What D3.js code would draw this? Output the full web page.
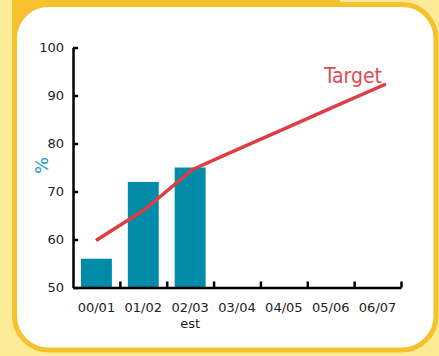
<!DOCTYPE html>
<html>
<head>
<meta charset="utf-8">
<script src="https://cdn.jsdelivr.net/npm/d3@7"></script>
<style>
  body { margin: 0; background: #fdeb98; }
  svg { display: block; }
</style>
</head>
<body>
<div id="chart-container"></div>
<script>
// Data
const categories = ["00/01", "01/02", "02/03", "03/04", "04/05", "05/06", "06/07"];
const actual = [56, 72, 75];            // bars (02/03 is an estimate)
const target = [59.8, 66.2, 74.6, 79.1, 83.5, 88, 92.4];
const yTicks = [50, 60, 70, 80, 90, 100];

const W = 439, H = 356;
const svg = d3.select("#chart-container")
  .append("svg")
  .attr("width", W)
  .attr("height", H);

// Background frame
svg.append("rect").attr("width", W).attr("height", H).attr("fill", "#fdeb98");
svg.append("rect")
  .attr("x", 12).attr("y", 0)
  .attr("width", 328).attr("height", 50)
  .attr("fill", "#f6c12d");
svg.append("rect")
  .attr("x", 14.5).attr("y", 4.5)
  .attr("width", 421.5).attr("height", 345.5)
  .attr("rx", 34)
  .attr("fill", "white")
  .attr("stroke", "#f6c12d")
  .attr("stroke-width", 5);

// Scales
const x = d3.scaleBand()
  .domain(categories)
  .range([73, 401])
  .paddingInner(0.34)
  .paddingOuter(0.17);

const xEdge = d3.scaleLinear()
  .domain([0, categories.length])
  .range([73, 401]);

const xLine = d3.scalePoint()
  .domain(categories)
  .range([96, 386]);

const y = d3.scaleLinear()
  .domain([50, 100])
  .range([287.5, 47.5]);

// Bars
svg.selectAll(".bar")
  .data(actual)
  .join("rect")
  .attr("class", "bar")
  .attr("x", (d, i) => x(categories[i]))
  .attr("y", d => y(d))
  .attr("width", x.bandwidth())
  .attr("height", d => y(50) - y(d))
  .attr("fill", "#008ca8");

// y axis
svg.append("g")
  .attr("transform", "translate(73,0)")
  .call(d3.axisLeft(y)
    .tickValues(yTicks)
    .tickSizeInner(-5)
    .tickSizeOuter(0)
    .tickPadding(9))
  .call(g => g.selectAll("path, line").attr("stroke", "#000").attr("stroke-width", 2.5))
  .selectAll("text")
  .style("font-family", "DejaVu Sans, sans-serif")
  .style("font-size", "13px")
  .attr("fill", "#222");

// x axis line + ticks at category boundaries
svg.append("g")
  .attr("transform", "translate(0,287.5)")
  .call(d3.axisBottom(xEdge)
    .tickValues(d3.range(1, categories.length + 1))
    .tickSizeInner(-6)
    .tickSizeOuter(0)
    .tickFormat(""))
  .call(g => g.selectAll("path, line").attr("stroke", "#000").attr("stroke-width", 2.5));

// x labels at band centres
svg.append("g")
  .attr("transform", "translate(0,287.5)")
  .call(d3.axisBottom(x).tickSize(0).tickPadding(15.5))
  .call(g => g.select(".domain").remove())
  .selectAll("text")
  .style("font-family", "DejaVu Sans, sans-serif")
  .style("font-size", "13px")
  .attr("fill", "#222");

svg.append("text")
  .attr("x", x("02/03") + x.bandwidth() / 2)
  .attr("y", 327.5)
  .attr("text-anchor", "middle")
  .style("font-family", "DejaVu Sans, sans-serif")
  .style("font-size", "13px")
  .attr("fill", "#222")
  .text("est");

// y axis label
svg.append("text")
  .attr("transform", "translate(48,165.5) rotate(-90)")
  .attr("text-anchor", "middle")
  .style("font-family", "DejaVu Sans, sans-serif")
  .style("font-size", "18px")
  .attr("fill", "#1a9fb8")
  .text("%");

// Target line
const line = d3.line()
  .x((d, i) => xLine(categories[i]))
  .y(d => y(d));

svg.append("path")
  .datum(target)
  .attr("fill", "none")
  .attr("stroke", "#dd3e44")
  .attr("stroke-width", 3.5)
  .attr("d", line);

svg.append("text")
  .attr("x", 324)
  .attr("y", 82.5)
  .attr("textLength", 58)
  .attr("lengthAdjust", "spacingAndGlyphs")
  .style("font-family", "DejaVu Sans Condensed, DejaVu Sans, sans-serif")
  .style("font-size", "21px")
  .attr("fill", "#e04a52")
  .text("Target");
</script>
</body>
</html>
